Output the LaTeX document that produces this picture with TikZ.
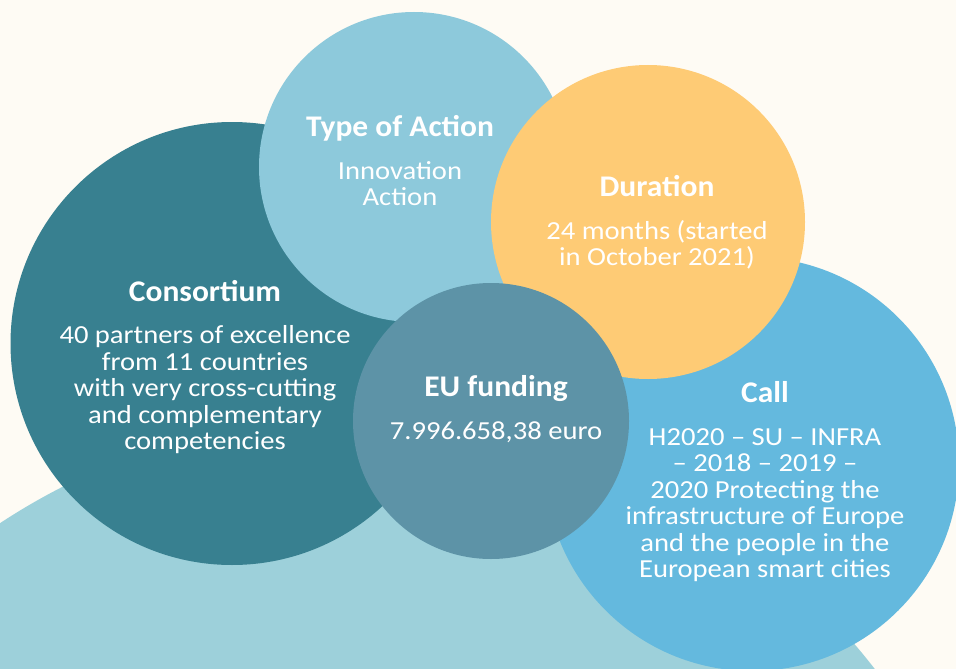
\documentclass[tikz,border=0pt]{standalone}
\usepackage{fontspec}
\newfontfamily\bodyfont{Carlito}[FakeStretch=1.1]
\newfontfamily\headfont{Carlito}[FakeStretch=1.05]
\definecolor{bgcream}{HTML}{FEFBF4}
\definecolor{basecol}{HTML}{9DD0DA}
\definecolor{conscol}{HTML}{388090}
\definecolor{typecol}{HTML}{8DC9DB}
\definecolor{durcol}{HTML}{FECB75}
\definecolor{eucol}{HTML}{5D93A7}
\definecolor{callcol}{HTML}{64B9DE}
\newcommand{\ctext}[2]{\vtop{\baselineskip=26.5pt\lineskiplimit=-100pt\halign{\hfil##\hfil\cr{\headfont\bfseries\fontsize{30}{30}\selectfont #1}\cr\noalign{\kern 16pt}#2\crcr}}}
\begin{document}
\begin{tikzpicture}[x=1pt,y=-1pt,
  disc/.style={circle, inner sep=0pt, outer sep=0pt, draw=none, minimum size=#1},
  label/.style={anchor=base, inner sep=0pt, text=white, font=\bodyfont\fontsize{26}{26.5}\selectfont}]
\useasboundingbox (0,0) rectangle (956,669);
\clip (0,0) rectangle (956,669);
\fill[bgcream] (0,0) rectangle (956,669);
% circles, back to front
\node[disc=1306pt, fill=basecol] (base) at (358.6,1069) {};
\node[disc=443pt, fill=conscol] (cons) at (232,343.5) {};
\node[disc=310pt, fill=typecol] (type) at (414,167) {};
\node[disc=414pt, fill=callcol] (call) at (752,464) {};
\node[disc=314pt, fill=durcol] (dur) at (648,222) {};
\node[disc=276pt, fill=eucol] (eu) at (491,421) {};
% texts
\node[label] (tcons) at (205,301) {\ctext{Consortium}{40 partners of excellence\cr from 11 countries\cr with very cross-cutting\cr and complementary\cr competencies}};
\node[label] (ttype) at (400,136.7) {\ctext{Type of Action}{Innovation\cr Action}};
\node[label] (tdur) at (657,196.7) {\ctext{Duration}{24 months (started\cr in October 2021)}};
\node[label] (teu) at (496,396.7) {\ctext{EU funding}{7.996.658,38 euro}};
\node[label] (tcall) at (765,402.7) {\ctext{Call}{H2020 – SU – INFRA\cr – 2018 – 2019 –\cr 2020 Protecting the\cr infrastructure of Europe\cr and the people in the\cr European smart cities}};
\end{tikzpicture}
\end{document}
